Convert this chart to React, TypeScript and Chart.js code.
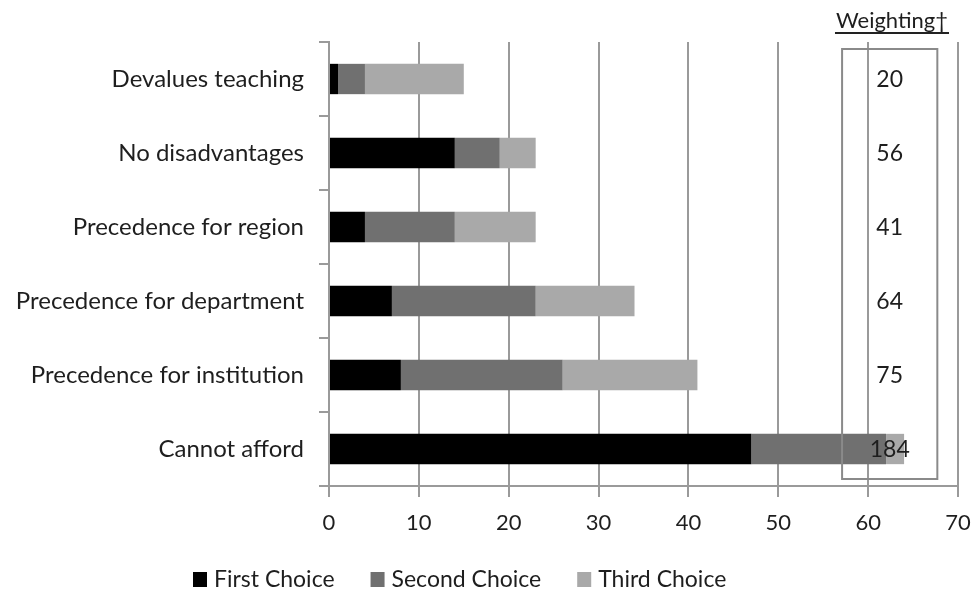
import React, { useEffect, useRef } from 'react';
import { Chart, registerables } from 'chart.js';
Chart.register(...registerables);

const categories = [
  'Devalues teaching',
  'No disadvantages',
  'Precedence for region',
  'Precedence for department',
  'Precedence for institution',
  'Cannot afford',
];
const firstChoice = [1, 14, 4, 7, 8, 47];
const secondChoice = [3, 5, 10, 16, 18, 15];
const thirdChoice = [11, 4, 9, 11, 15, 2];
const weightings = [20, 56, 41, 64, 75, 184];
const seriesNames = ['First Choice', 'Second Choice', 'Third Choice'];
const seriesColors = ['#000000', '#707070', '#a9a9a9'];
const weightingTitle = 'Weighting†';
const weightBoxRange = [57.1, 67.7];

const FONT = 'Lato, "Open Sans", sans-serif';
const TEXT = '#1e1e1e';
const GRID = '#9a9a9a';

const overlayPlugin = {
  id: 'overlay',
  afterDatasetsDraw(chart: any) {
    const ctx = chart.ctx;
    const xs = chart.scales.x;
    const ys = chart.scales.y;
    const area = chart.chartArea;
    ctx.save();
    // weighting box
    const bx0 = xs.getPixelForValue(weightBoxRange[0]);
    const bx1 = xs.getPixelForValue(weightBoxRange[1]);
    const by0 = area.top + 7;
    const by1 = area.bottom - 7;
    ctx.strokeStyle = '#8a8a8a';
    ctx.lineWidth = 2;
    ctx.strokeRect(bx0, by0, bx1 - bx0, by1 - by0);
    // values
    ctx.fillStyle = TEXT;
    ctx.font = `23px ${FONT}`;
    ctx.textAlign = 'center';
    ctx.textBaseline = 'middle';
    const cx = (bx0 + bx1) / 2;
    weightings.forEach((w, i) => {
      ctx.fillText(String(w), cx, ys.getPixelForValue(i) + 1);
    });
    // title
    ctx.font = `22px ${FONT}`;
    ctx.textBaseline = 'alphabetic';
    const tw = ctx.measureText(weightingTitle).width;
    const tcx = 892;
    ctx.fillText(weightingTitle, tcx, 28);
    ctx.fillStyle = '#222';
    ctx.fillRect(tcx - tw / 2 - 1, 32, tw + 2, 2);
    // legend
    ctx.font = `23px ${FONT}`;
    ctx.textAlign = 'left';
    ctx.textBaseline = 'middle';
    let lx = 193;
    const ly = 580;
    seriesNames.forEach((name, i) => {
      ctx.fillStyle = seriesColors[i];
      ctx.fillRect(lx, ly - 8, 14, 15);
      ctx.fillStyle = TEXT;
      ctx.fillText(name, lx + 21, ly);
      lx += 21 + ctx.measureText(name).width + 36;
    });
    ctx.restore();
  },
};

export default function App() {
  const ref = useRef<HTMLCanvasElement>(null);
  useEffect(() => {
    if (!ref.current) return;
    const chart = new Chart(ref.current, {
      type: 'bar',
      data: {
        labels: categories,
        datasets: [
          { label: seriesNames[0], data: firstChoice, backgroundColor: seriesColors[0] },
          { label: seriesNames[1], data: secondChoice, backgroundColor: seriesColors[1] },
          { label: seriesNames[2], data: thirdChoice, backgroundColor: seriesColors[2] },
        ],
      },
      options: {
        indexAxis: 'y',
        responsive: false,
        animation: false,
        layout: { padding: { left: 0, right: 16, top: 42, bottom: 46 } },
        datasets: { bar: { barPercentage: 0.41, categoryPercentage: 1 } },
        plugins: { legend: { display: false }, tooltip: { enabled: false } },
        scales: {
          x: {
            stacked: true,
            min: 0,
            max: 70,
            ticks: { stepSize: 10, color: TEXT, font: { family: FONT, size: 22 }, padding: 13 },
            grid: { color: GRID, lineWidth: 2, tickLength: 11 },
            border: { color: GRID, width: 2 },
            afterFit(scale: any) {
              scale.height = 60;
              scale.paddingLeft = 0;
              scale.paddingRight = 0;
            },
          },
          y: {
            stacked: true,
            ticks: { color: TEXT, font: { family: FONT, size: 24 }, padding: 15 },
            grid: { drawOnChartArea: false, color: GRID, lineWidth: 2, tickLength: 10, offset: true },
            border: { color: GRID, width: 2 },
            afterFit(scale: any) {
              scale.width = 329;
              scale.paddingTop = 0;
              scale.paddingBottom = 0;
            },
          },
        },
      },
      plugins: [overlayPlugin],
    } as any);
    return () => chart.destroy();
  }, []);
  return (
    <div style={{ position: 'fixed', left: 0, top: 0, width: 974, height: 592, background: '#fff' }}>
      <canvas ref={ref} width={974} height={592} style={{ display: 'block' }} />
    </div>
  );
}
